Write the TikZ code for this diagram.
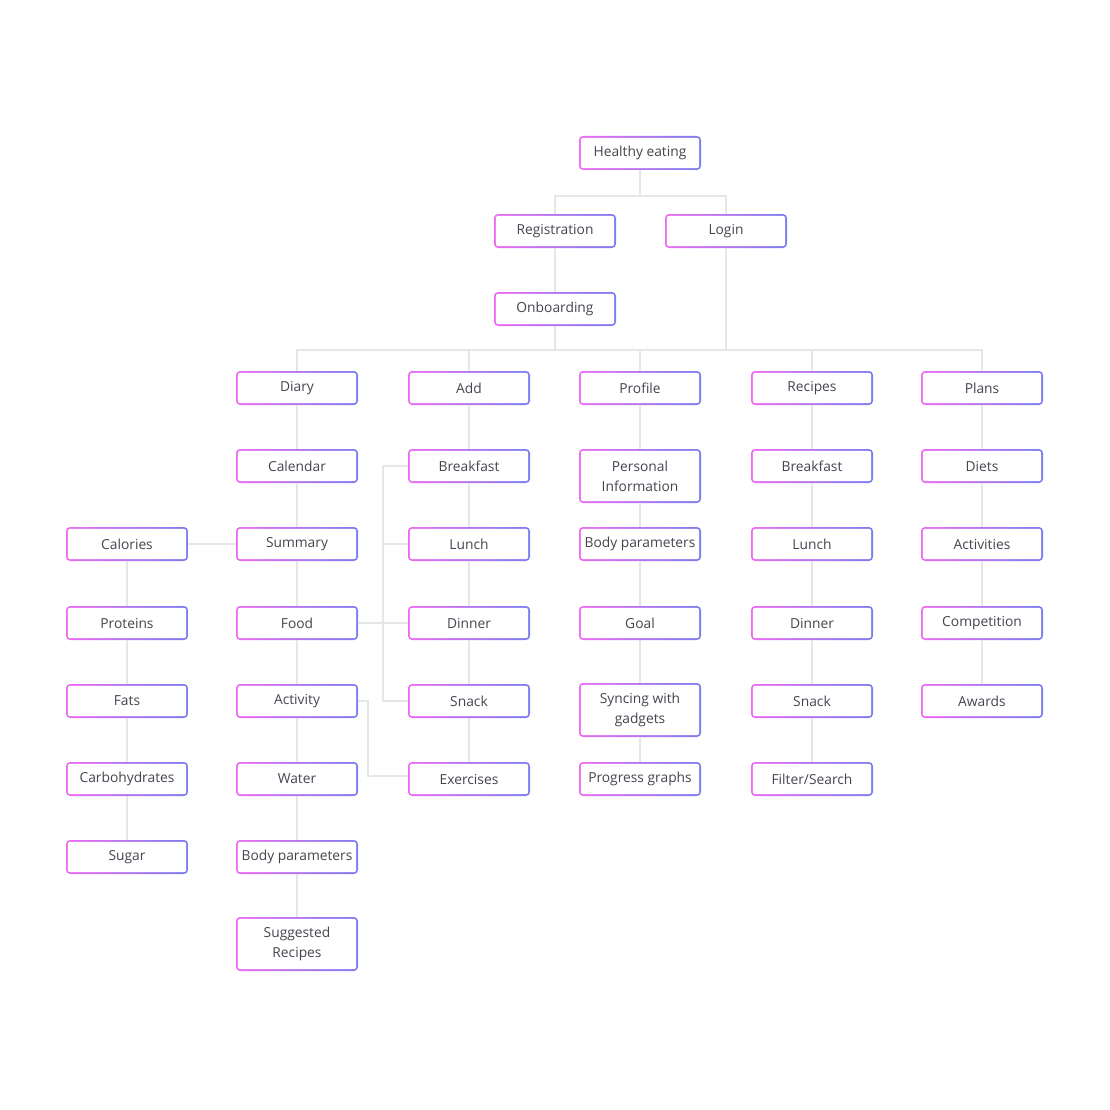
\documentclass[tikz,border=0pt]{standalone}
\usepackage{fontspec}
\setmainfont{Open Sans}
\definecolor{pk}{HTML}{EE6CF2}
\definecolor{bl}{HTML}{7C7EEE}
\definecolor{txt}{HTML}{45454F}
\definecolor{linec}{HTML}{E6E6E6}
\begin{document}
\begin{tikzpicture}[x=1pt,y=-1pt,
    box/.style={minimum width=122pt,minimum height=34pt,inner sep=2pt,rounded corners=4pt,
        align=center,text=txt,font=\fontsize{13.8}{20}\selectfont,
        path picture={
            \shade[left color=pk,right color=bl] (path picture bounding box.south west) rectangle (path picture bounding box.north east);
            \fill[white,rounded corners=2.5pt] ([xshift=1.8pt,yshift=1.8pt]path picture bounding box.south west) rectangle ([xshift=-1.8pt,yshift=-1.8pt]path picture bounding box.north east);}},
    tall/.style={box,minimum height=54pt},
    link/.style={draw=linec,line width=1.5pt}]
    \useasboundingbox (0,0) rectangle (1110,1110);
    % top
    \node[box] (he) at (640,153) {Healthy eating};
    \node[box] (reg) at (555,231) {Registration};
    \node[box] (login) at (726,231) {Login};
    \node[box] (onb) at (555,309) {Onboarding};
    % first level
    \node[box] (diary) at (297,388) {Diary};
    \node[box] (add) at (469,388) {Add};
    \node[box] (profile) at (640,388) {Profile};
    \node[box] (recipes) at (812,388) {Recipes};
    \node[box] (plans) at (982,388) {Plans};
    % diary
    \node[box] (calendar) at (297,466) {Calendar};
    \node[box] (summary) at (297,544) {Summary};
    \node[box] (food) at (297,623) {Food};
    \node[box] (activity) at (297,701) {Activity};
    \node[box] (water) at (297,779) {Water};
    \node[box] (bodyd) at (297,857) {Body parameters};
    \node[tall] (sugg) at (297,944) {Suggested\\Recipes};
    % summary
    \node[box] (calories) at (127,544) {Calories};
    \node[box] (proteins) at (127,623) {Proteins};
    \node[box] (fats) at (127,701) {Fats};
    \node[box] (carbs) at (127,779) {Carbohydrates};
    \node[box] (sugar) at (127,857) {Sugar};
    % add
    \node[box] (abreak) at (469,466) {Breakfast};
    \node[box] (alunch) at (469,544) {Lunch};
    \node[box] (adinner) at (469,623) {Dinner};
    \node[box] (asnack) at (469,701) {Snack};
    \node[box] (exer) at (469,779) {Exercises};
    % profile
    \node[tall] (pinfo) at (640,476) {Personal\\Information};
    \node[box] (bodyp) at (640,544) {Body parameters};
    \node[box] (goal) at (640,623) {Goal};
    \node[tall] (sync) at (640,710) {Syncing with\\gadgets};
    \node[box] (prog) at (640,779) {Progress graphs};
    % recipes
    \node[box] (rbreak) at (812,466) {Breakfast};
    \node[box] (rlunch) at (812,544) {Lunch};
    \node[box] (rdinner) at (812,623) {Dinner};
    \node[box] (rsnack) at (812,701) {Snack};
    \node[box] (filter) at (812,779) {Filter/Search};
    % plans
    \node[box] (diets) at (982,466) {Diets};
    \node[box] (activities) at (982,544) {Activities};
    \node[box] (comp) at (982,623) {Competition};
    \node[box] (awards) at (982,701) {Awards};
    % links
    \coordinate (j1) at (640,196);
    \coordinate (bl) at (297,350);
    \coordinate (br) at (982,350);
    \coordinate (kb) at (383,466);
    \coordinate (ks) at (383,701);
    \coordinate (ka) at (368,701);
    \coordinate (ke) at (368,776);
    \draw[link] (he) -- (j1);
    \draw[link] (reg.north) |- (j1) -| (login.north);
    \draw[link] (reg) -- (onb);
    \draw[link] (diary.north) -- (bl) -- (br) -- (plans.north);
    \draw[link] (onb) -- (onb |- bl) (login) -- (login |- bl);
    \draw[link] (add) -- (add |- bl) (profile) -- (profile |- bl) (recipes) -- (recipes |- bl);
    \draw[link] (diary) -- (calendar) (calendar) -- (summary) (summary) -- (food) (food) -- (activity)
        (activity) -- (water) (water) -- (bodyd) (bodyd) -- (sugg);
    \draw[link] (summary) -- (calories) (calories) -- (proteins) (proteins) -- (fats) (fats) -- (carbs) (carbs) -- (sugar);
    \draw[link] (add) -- (abreak) (abreak) -- (alunch) (alunch) -- (adinner) (adinner) -- (asnack) (asnack) -- (exer);
    \draw[link] (abreak.west) -- (kb) -- (ks) -- (asnack.west);
    \draw[link] (alunch.west) -- (alunch -| kb);
    \draw[link] (food) -- (adinner);
    \draw[link] (activity.east) -- (ka) -- (ke) -- (exer.west |- ke);
    \draw[link] (profile) -- (pinfo) (pinfo) -- (bodyp) (bodyp) -- (goal) (goal) -- (sync) (sync) -- (prog);
    \draw[link] (recipes) -- (rbreak) (rbreak) -- (rlunch) (rlunch) -- (rdinner) (rdinner) -- (rsnack) (rsnack) -- (filter);
    \draw[link] (plans) -- (diets) (diets) -- (activities) (activities) -- (comp) (comp) -- (awards);
\end{tikzpicture}
\end{document}
